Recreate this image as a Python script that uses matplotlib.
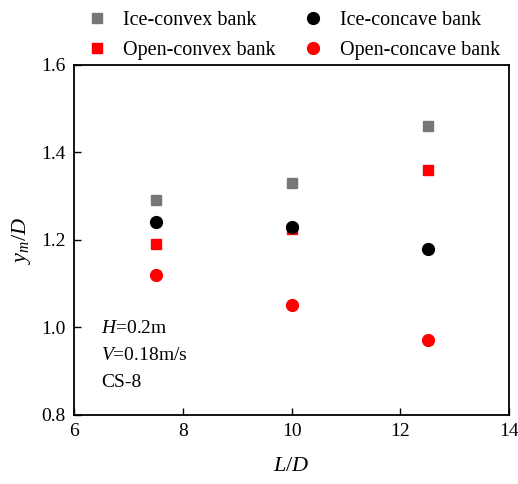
import matplotlib.pyplot as plt

plt.rcParams['font.family'] = ['Liberation Serif', 'DejaVu Serif']
plt.rcParams['mathtext.fontset'] = 'custom'
plt.rcParams['mathtext.it'] = 'Liberation Serif:italic'
plt.rcParams['mathtext.rm'] = 'Liberation Serif'

# 数据
x = [7.5, 10, 12.5]
ice_convex = [1.29, 1.33, 1.46]
ice_concave = [1.24, 1.23, 1.18]
open_convex = [1.19, 1.225, 1.36]
open_concave = [1.12, 1.05, 0.97]

fig = plt.figure(figsize=(5.18, 4.84), dpi=100)
ax = fig.add_axes([0.143, 0.143, 0.840, 0.723])

ax.plot(x, ice_convex, 's', color='#777777', ms=7.5, ls='none', label='Ice-convex bank')
ax.plot(x, open_convex, 's', color='red', ms=7.5, ls='none', label='Open-convex bank')
ax.plot(x, ice_concave, 'o', color='black', ms=8.5, ls='none', label='Ice-concave bank')
ax.plot(x, open_concave, 'o', color='red', ms=8.5, ls='none', label='Open-concave bank')

ax.set_xlim(6, 14)
ax.set_ylim(0.8, 1.6)
ax.set_xticks([6, 8, 10, 12, 14])
ax.set_yticks([0.8, 1.0, 1.2, 1.4, 1.6])
ax.set_yticklabels(['0.8', '1.0', '1.2', '1.4', '1.6'])
ax.tick_params(direction='in', labelsize=14, length=5, width=1, pad=6)
for s in ax.spines.values():
    s.set_linewidth(1.3)

ax.set_xlabel('$L$/$D$', fontsize=16, labelpad=12)
ax.set_ylabel('$y_m$/$D$', fontsize=16, labelpad=6)

ax.text(6.5, 0.997, '$H$=0.2m', fontsize=14, va='center')
ax.text(6.5, 0.935, '$V$=0.18m/s', fontsize=14, va='center')
ax.text(6.5, 0.873, 'CS-8', fontsize=14, va='center')

fig.legend(loc='upper left', bbox_to_anchor=(0.128, 1.015), ncol=2, frameon=False,
           fontsize=14.5, handletextpad=0.7, columnspacing=1.3, labelspacing=0.55,
           handlelength=1.2)

fig.savefig('out.png', dpi=100)
